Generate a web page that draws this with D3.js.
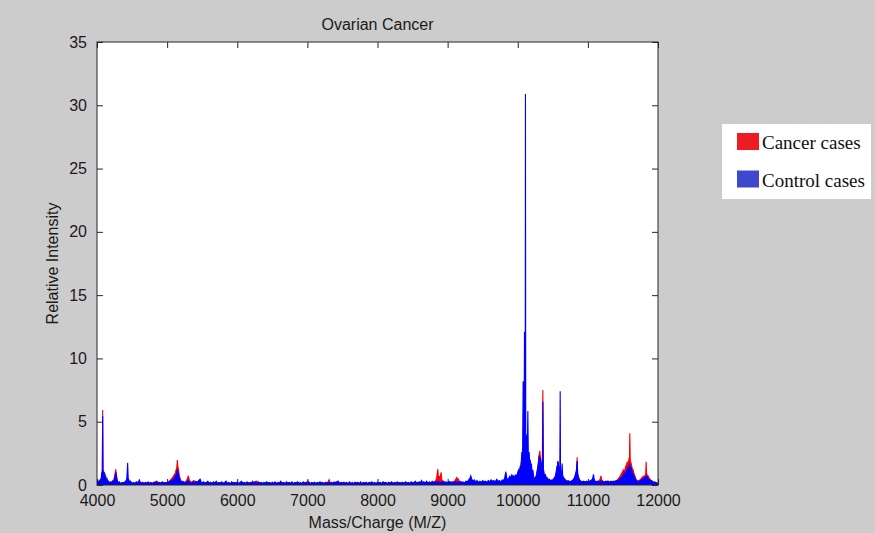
<!DOCTYPE html>
<html><head><meta charset="utf-8">
<script src="https://cdn.jsdelivr.net/npm/d3@7/dist/d3.min.js"></script>
<style>
html,body{margin:0;padding:0;background:#cccccc;}
svg{display:block;}
</style></head>
<body>
<script>
const chartTitle = "Ovarian Cancer";
const xLabel = "Mass/Charge (M/Z)";
const yLabel = "Relative Intensity";
const xTicks = [4000,5000,6000,7000,8000,9000,10000,11000,12000];
const yTicks = [0,5,10,15,20,25,30,35];
const seriesNames = ["Cancer cases","Control cases"];

const cancerSpectrum = [
[4000,0.05],[4030,0.2],[4060,0.5],[4070,0.9],[4075,0.7],[4081,5.92],[4086,1.0],[4095,0.9],[4105,0.7],[4115,0.5],[4130,0.3],[4160,0.15],[4200,0.2],[4240,0.4],[4255,0.8],[4267,1.24],[4275,0.9],[4290,0.3],[4330,0.1],[4380,0.2],[4420,0.3],[4437,0.6],[4450,0.3],[4500,0.15],[4550,0.1],[4600,0.3],[4650,0.1],[4700,0.2],[4750,0.1],[4800,0.15],[4850,0.3],[4900,0.1],[4950,0.2],[5000,0.15],[5050,0.4],[5080,0.6],[5100,0.8],[5115,0.9],[5128,1.2],[5138,1.4],[5146,1.97],[5152,1.5],[5160,1.3],[5170,0.9],[5180,0.6],[5200,0.3],[5240,0.2],[5270,0.3],[5290,0.5],[5303,0.73],[5315,0.4],[5340,0.2],[5380,0.35],[5420,0.2],[5460,0.3],[5500,0.1],[5550,0.2],[5600,0.1],[5650,0.15],[5700,0.1],[5750,0.2],[5800,0.1],[5850,0.15],[5900,0.1],[5950,0.2],[6000,0.1],[6050,0.15],[6100,0.1],[6150,0.2],[6200,0.1],[6250,0.25],[6280,0.3],[6300,0.1],[6350,0.15],[6400,0.1],[6450,0.2],[6500,0.1],[6550,0.15],[6600,0.1],[6650,0.2],[6700,0.1],[6750,0.15],[6800,0.1],[6850,0.2],[6900,0.1],[6950,0.15],[6990,0.2],[7005,0.32],[7020,0.15],[7050,0.1],[7100,0.15],[7150,0.1],[7200,0.2],[7250,0.1],[7290,0.2],[7310,0.42],[7325,0.2],[7350,0.1],[7400,0.15],[7450,0.1],[7500,0.2],[7550,0.1],[7600,0.15],[7650,0.1],[7700,0.2],[7750,0.1],[7800,0.15],[7850,0.1],[7900,0.2],[7950,0.1],[8000,0.15],[8050,0.1],[8100,0.2],[8150,0.1],[8200,0.15],[8250,0.1],[8300,0.2],[8350,0.1],[8400,0.15],[8450,0.1],[8500,0.2],[8550,0.1],[8600,0.15],[8650,0.1],[8700,0.2],[8750,0.15],[8800,0.2],[8830,0.35],[8845,0.6],[8860,1.26],[8870,0.5],[8880,0.7],[8890,0.4],[8907,1.0],[8918,0.4],[8935,0.3],[8960,0.2],[9000,0.15],[9050,0.2],[9100,0.3],[9115,0.45],[9130,0.58],[9140,0.4],[9150,0.5],[9165,0.3],[9200,0.2],[9250,0.15],[9300,0.2],[9350,0.3],[9400,0.2],[9450,0.15],[9500,0.2],[9550,0.15],[9600,0.25],[9650,0.2],[9700,0.3],[9750,0.2],[9800,0.3],[9850,0.4],[9900,0.5],[9950,0.6],[10000,0.8],[10030,1.2],[10058,2.0],[10077,2.8],[10096,3.0],[10110,2.5],[10130,2.2],[10150,1.5],[10180,1.0],[10220,0.5],[10260,0.6],[10290,1.5],[10300,2.2],[10315,2.7],[10325,2.0],[10340,1.5],[10350,1.6],[10358,7.5],[10366,1.3],[10380,0.8],[10420,0.5],[10460,0.3],[10500,0.4],[10530,0.6],[10550,1.0],[10565,1.5],[10572,1.9],[10580,1.7],[10595,1.0],[10605,1.2],[10620,0.8],[10650,0.5],[10700,0.3],[10750,0.25],[10800,0.4],[10825,0.8],[10840,1.2],[10847,2.2],[10855,0.9],[10880,0.4],[10920,0.2],[10960,0.25],[11000,0.2],[11050,0.3],[11080,0.5],[11100,0.25],[11150,0.3],[11175,0.45],[11186,0.73],[11198,0.4],[11230,0.2],[11280,0.3],[11330,0.2],[11380,0.3],[11420,0.4],[11450,0.6],[11470,0.8],[11490,1.0],[11505,1.2],[11520,1.0],[11535,1.4],[11550,1.6],[11562,1.8],[11575,1.7],[11585,2.0],[11592,1.9],[11598,4.08],[11604,2.0],[11612,1.8],[11622,1.6],[11632,1.3],[11645,1.2],[11658,0.9],[11672,0.7],[11690,0.4],[11710,0.3],[11740,0.4],[11760,0.5],[11775,0.6],[11790,0.7],[11805,0.65],[11818,0.8],[11825,0.9],[11831,1.84],[11837,0.9],[11850,0.75],[11862,0.7],[11878,0.5],[11895,0.4],[11915,0.3],[11940,0.2],[11970,0.15],[12000,0.1]
];

const controlSpectrum = [
[4000,0.1],[4010,0.3],[4020,0.15],[4030,0.35],[4040,0.2],[4050,0.4],[4058,0.3],[4066,0.9],[4072,1.05],[4076,0.8],[4081,5.45],[4085,1.0],[4090,1.15],[4096,0.95],[4102,1.05],[4108,0.8],[4114,0.9],[4120,0.5],[4128,0.6],[4136,0.3],[4145,0.45],[4155,0.2],[4165,0.3],[4175,0.15],[4190,0.25],[4205,0.1],[4220,0.3],[4235,0.2],[4250,0.5],[4258,0.7],[4267,1.0],[4274,0.8],[4282,0.5],[4292,0.3],[4305,0.15],[4320,0.25],[4340,0.1],[4360,0.2],[4380,0.15],[4400,0.25],[4415,0.35],[4425,0.5],[4437,1.76],[4445,0.5],[4455,0.4],[4465,0.2],[4480,0.3],[4500,0.1],[4520,0.2],[4540,0.12],[4560,0.25],[4580,0.15],[4595,0.2],[4604,0.45],[4612,0.2],[4630,0.1],[4650,0.22],[4670,0.12],[4690,0.2],[4710,0.1],[4730,0.25],[4750,0.12],[4770,0.2],[4790,0.1],[4810,0.22],[4830,0.15],[4850,0.25],[4870,0.1],[4890,0.2],[4910,0.15],[4930,0.25],[4950,0.12],[4970,0.2],[4990,0.15],[5010,0.25],[5025,0.2],[5040,0.3],[5055,0.35],[5070,0.3],[5085,0.45],[5100,0.5],[5112,0.65],[5125,0.8],[5135,0.9],[5146,1.24],[5155,1.0],[5165,0.7],[5175,0.6],[5185,0.4],[5195,0.3],[5210,0.2],[5225,0.3],[5240,0.15],[5260,0.2],[5280,0.25],[5295,0.3],[5303,0.4],[5312,0.25],[5330,0.15],[5350,0.2],[5370,0.25],[5390,0.15],[5410,0.3],[5430,0.2],[5450,0.35],[5470,0.45],[5485,0.25],[5500,0.15],
[5520,0.25],[5540,0.12],[5560,0.2],[5580,0.3],[5600,0.15],[5620,0.22],[5640,0.1],[5660,0.25],[5680,0.15],[5700,0.3],[5720,0.12],[5740,0.2],[5760,0.1],[5780,0.25],[5800,0.15],[5820,0.2],[5840,0.3],[5860,0.12],[5880,0.2],[5900,0.1],[5920,0.25],[5940,0.15],[5960,0.2],[5980,0.12],[6000,0.25],[6020,0.1],[6040,0.2],[6060,0.3],[6080,0.15],[6100,0.2],[6120,0.12],[6140,0.25],[6160,0.1],[6180,0.2],[6200,0.15],[6220,0.3],[6240,0.12],[6260,0.22],[6280,0.1],[6300,0.25],[6320,0.15],[6340,0.2],[6360,0.1],[6380,0.2],[6400,0.15],[6420,0.25],[6440,0.12],[6460,0.2],[6480,0.1],[6500,0.22],[6520,0.15],[6540,0.25],[6560,0.1],[6580,0.2],[6600,0.15],[6620,0.3],[6640,0.12],[6660,0.2],[6680,0.1],[6700,0.25],[6720,0.15],[6740,0.2],[6760,0.12],[6780,0.25],[6800,0.1],[6820,0.2],[6840,0.15],[6860,0.25],[6880,0.12],[6900,0.2],[6920,0.1],[6940,0.25],[6960,0.15],[6980,0.2],[7000,0.12],[7020,0.25],[7040,0.1],[7060,0.2],[7080,0.15],[7100,0.22],[7120,0.1],[7140,0.2],[7160,0.15],[7180,0.25],[7200,0.12],[7220,0.2],[7240,0.1],[7260,0.22],[7280,0.15],[7300,0.2],[7320,0.12],[7340,0.2],[7360,0.15],[7380,0.25],[7400,0.2],[7420,0.25],[7438,0.32],[7455,0.15],[7480,0.2],[7500,0.1],[7520,0.22],[7540,0.15],[7560,0.2],[7580,0.1],[7600,0.25],[7620,0.12],[7640,0.2],[7660,0.1],[7680,0.22],[7700,0.15],[7720,0.2],[7740,0.12],[7760,0.25],[7780,0.1],[7800,0.2],[7820,0.15],[7840,0.22],[7860,0.1],[7880,0.2],[7900,0.15],[7920,0.25],[7940,0.12],[7960,0.2],[7980,0.1],[8000,0.22],[8020,0.15],[8040,0.2],[8060,0.12],[8080,0.25],[8100,0.15],[8120,0.2],[8140,0.1],[8160,0.22],[8180,0.15],[8200,0.25],[8220,0.12],[8240,0.2],[8260,0.15],[8280,0.25],[8300,0.1],[8320,0.2],[8340,0.15],[8360,0.22],[8380,0.12],[8400,0.25],[8420,0.15],[8440,0.2],[8460,0.12],[8480,0.25],[8500,0.15],[8520,0.2],[8540,0.3],[8560,0.15],[8580,0.22],[8600,0.25],[8615,0.2],[8630,0.35],[8645,0.15],[8660,0.25],[8680,0.15],[8700,0.3],[8720,0.12],[8740,0.25],[8760,0.15],[8780,0.3],[8800,0.2],[8820,0.25],[8840,0.15],[8860,0.3],[8880,0.2],[8900,0.25],[8920,0.15],[8940,0.3],[8960,0.2],[8980,0.25],[9000,0.15],[9020,0.3],[9040,0.2],[9060,0.25],[9080,0.15],[9100,0.3],[9120,0.2],[9140,0.25],[9160,0.15],[9180,0.3],[9200,0.2],[9220,0.25],[9240,0.15],[9260,0.3],[9280,0.25],[9300,0.4],[9315,0.5],[9330,0.73],[9345,0.45],[9360,0.3],[9380,0.4],[9400,0.25],[9420,0.35],[9440,0.2],[9460,0.3],[9480,0.2],[9500,0.35],[9520,0.25],[9540,0.3],[9560,0.2],[9580,0.35],[9600,0.25],[9620,0.4],[9640,0.3],[9660,0.35],[9680,0.25],[9700,0.45],[9720,0.3],[9740,0.35],[9760,0.25],[9780,0.4],[9800,0.35],[9815,0.6],[9830,1.05],[9842,0.6],[9855,0.4],[9870,0.5],[9885,0.7],[9900,0.55],[9915,0.8],[9930,0.65],[9945,0.75],[9960,0.6],[9975,0.8],[9990,0.7],[10000,1.0],[10012,1.2],[10025,1.0],[10035,1.5],[10045,1.3],[10052,2.0],[10058,2.6],[10064,1.8],[10070,3.0],[10077,8.2],[10083,3.8],[10090,4.0],[10096,12.1],[10102,4.0],[10106,3.9],[10110,30.9],[10114,3.9],[10120,4.0],[10126,3.5],[10132,3.9],[10138,3.0],[10144,5.85],[10150,2.5],[10156,2.2],[10162,2.6],[10170,1.8],[10178,2.0],[10186,1.5],[10195,1.7],[10205,1.0],[10215,1.2],[10228,0.6],[10240,0.5],[10255,0.6],[10268,0.8],[10280,1.2],[10290,1.6],[10300,2.0],[10308,2.3],[10315,1.8],[10322,2.2],[10330,1.9],[10338,1.5],[10346,1.2],[10352,1.4],[10358,6.6],[10364,1.2],[10372,0.9],[10382,0.7],[10395,0.8],[10410,0.5],[10425,0.55],[10440,0.4],[10455,0.45],[10470,0.3],[10485,0.4],[10500,0.35],[10515,0.5],[10530,0.6],[10542,0.8],[10552,1.2],[10560,1.5],[10566,1.3],[10572,1.85],[10580,1.6],[10588,1.2],[10595,0.9],[10600,1.0],[10605,7.4],[10610,0.9],[10618,1.0],[10626,0.8],[10633,1.7],[10640,0.8],[10650,0.6],[10665,0.5],[10680,0.4],[10700,0.3],[10720,0.35],[10740,0.25],[10760,0.3],[10780,0.35],[10800,0.5],[10815,0.7],[10825,0.9],[10835,1.1],[10847,1.9],[10855,0.8],[10865,0.6],[10880,0.4],[10900,0.3],[10920,0.25],[10940,0.3],[10960,0.2],[10980,0.3],[11000,0.25],[11020,0.3],[11040,0.35],[11055,0.4],[11070,0.55],[11080,0.85],[11090,0.45],[11105,0.3],[11120,0.25],[11140,0.3],[11160,0.2],[11180,0.35],[11195,0.25],[11210,0.3],[11230,0.2],[11250,0.3],[11270,0.25],[11290,0.3],[11310,0.2],[11330,0.3],[11350,0.25],[11370,0.3],[11390,0.25],[11410,0.35],[11425,0.3],[11440,0.4],[11455,0.5],[11470,0.6],[11485,0.55],[11500,0.7],[11512,0.9],[11524,0.8],[11536,1.0],[11548,1.1],[11560,1.2],[11572,1.4],[11584,1.3],[11592,1.5],[11598,1.7],[11605,1.4],[11612,1.2],[11620,1.4],[11630,1.0],[11640,0.9],[11652,0.8],[11664,0.6],[11676,0.5],[11690,0.35],[11705,0.3],[11720,0.25],[11735,0.3],[11750,0.35],[11765,0.4],[11780,0.5],[11795,0.45],[11810,0.6],[11822,0.55],[11831,0.7],[11840,0.5],[11852,0.6],[11865,0.45],[11880,0.4],[11895,0.3],[11910,0.35],[11930,0.2],[11950,0.25],[11970,0.2],[11990,0.15],[12000,0.1]
];

const W = 875, H = 533;
const margin = {left: 97, right: 217, top: 42, bottom: 48};
const pw = W - margin.left - margin.right;
const ph = H - margin.top - margin.bottom;

const svg = d3.select("body").append("svg").attr("width", W).attr("height", H);
svg.append("rect").attr("width", W).attr("height", H).attr("fill", "#cccccc");

const g = svg.append("g").attr("transform", `translate(${margin.left},${margin.top})`);
g.append("rect").attr("width", pw).attr("height", ph).attr("fill", "#ffffff");

const x = d3.scaleLinear().domain([4000, 12000]).range([0, pw]);
const y = d3.scaleLinear().domain([0, 35]).range([ph, 0]);

const fontSans = "'Liberation Sans', Arial, sans-serif";

function styleAxis(sel) {
  sel.select(".domain").remove();
  sel.selectAll(".tick line").attr("stroke", "#262626").attr("stroke-width", 1);
  sel.selectAll(".tick text").attr("font-family", fontSans).attr("font-size", 16).attr("fill", "#1a1a1a");
}

g.append("g").attr("transform", `translate(0,${ph})`)
  .call(d3.axisBottom(x).tickValues(xTicks).tickFormat(d3.format("d")).tickSizeInner(-6).tickSizeOuter(0).tickPadding(10))
  .call(styleAxis);
g.append("g")
  .call(d3.axisTop(x).tickValues(xTicks).tickFormat("").tickSizeInner(-6).tickSizeOuter(0))
  .call(styleAxis);
g.append("g")
  .call(d3.axisLeft(y).tickValues(yTicks).tickFormat(d3.format("d")).tickSizeInner(-6).tickSizeOuter(0).tickPadding(10))
  .call(styleAxis);
g.append("g").attr("transform", `translate(${pw},0)`)
  .call(d3.axisRight(y).tickValues(yTicks).tickFormat("").tickSizeInner(-6).tickSizeOuter(0))
  .call(styleAxis);

g.append("clipPath").attr("id", "clip").append("rect").attr("x", 0).attr("y", 0).attr("width", pw).attr("height", ph + 1);

const line = d3.line().x(d => x(d[0])).y(d => y(d[1]));
const area = d3.area().x(d => x(d[0])).y0(y(0)).y1(d => y(d[1]));
const dataG = g.append("g").attr("clip-path", "url(#clip)");
[[cancerSpectrum, "#ff0000"], [controlSpectrum, "#0000ff"]].forEach(([data, col]) => {
  dataG.append("path").datum(data).attr("d", area).attr("fill", col).attr("stroke", "none");
  dataG.append("path").datum(data).attr("d", line)
    .attr("fill", "none").attr("stroke", col).attr("stroke-width", 1.1).attr("stroke-linejoin", "miter");
});

// frame
g.append("rect").attr("width", pw).attr("height", ph).attr("fill", "none").attr("stroke", "#262626").attr("stroke-width", 1);

// title & labels
svg.append("text").attr("x", margin.left + pw / 2).attr("y", 30).attr("text-anchor", "middle")
  .attr("font-family", fontSans).attr("font-size", 16).attr("fill", "#1a1a1a").text(chartTitle);
svg.append("text").attr("x", margin.left + pw / 2).attr("y", 528).attr("text-anchor", "middle")
  .attr("font-family", fontSans).attr("font-size", 16).attr("fill", "#1a1a1a").text(xLabel);
svg.append("text").attr("transform", `translate(58,${margin.top + ph / 2}) rotate(-90)`).attr("text-anchor", "middle")
  .attr("font-family", fontSans).attr("font-size", 16).attr("fill", "#1a1a1a").text(yLabel);

// legend
const legendColors = ["#ed1c24", "#3f48cc"];
const lg = svg.append("g").attr("transform", "translate(722,124)");
lg.append("rect").attr("width", 149).attr("height", 75).attr("fill", "#ffffff");
seriesNames.forEach((name, i) => {
  const row = lg.append("g").attr("transform", `translate(0,${9 + i * 37.5})`);
  row.append("rect").attr("x", 15).attr("y", 0).attr("width", 22).attr("height", 17).attr("fill", legendColors[i]);
  row.append("text").attr("x", 40).attr("y", 16).attr("font-family", "'Liberation Serif','Times New Roman',serif")
    .attr("font-size", 19).attr("fill", "#111").text(name);
});
</script>
</body></html>
